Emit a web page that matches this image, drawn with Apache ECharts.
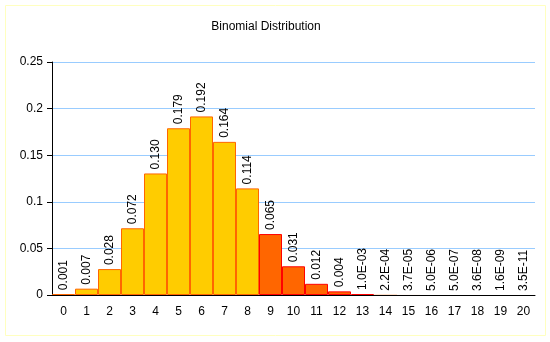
<!DOCTYPE html>
<html><head><meta charset="utf-8">
<script src="https://cdn.jsdelivr.net/npm/echarts@6/dist/echarts.min.js"></script>
<style>html,body{margin:0;padding:0;background:#fff}#c{width:550px;height:342px}</style>
</head><body><div id="c"></div>
<script>
const categories = ['0','1','2','3','4','5','6','7','8','9','10','11','12','13','14','15','16','17','18','19','20'];
const probabilities = [0.0008,0.0068,0.0278,0.0716,0.1304,0.1789,0.1916,0.1643,0.1144,0.0654,0.0308,0.0120,0.0039,0.0010,0.00022,0.000037,0.0000050,0.00000050,0.000000036,0.0000000016,0.000000000035];
const valueLabels = ['0.001','0.007','0.028','0.072','0.130','0.179','0.192','0.164','0.114','0.065','0.031','0.012','0.004','1.0E-03','2.2E-04','3.7E-05','5.0E-06','5.0E-07','3.6E-08','1.6E-09','3.5E-11'];
const yTicks = [0,0.05,0.1,0.15,0.2,0.25];
const highlightFrom = 9;

const chart = echarts.init(document.getElementById('c'));
const font = 'Liberation Sans, Arial, sans-serif';
chart.setOption({
  animation:false,
  title:{text:'Binomial Distribution',left:261,top:16,textAlign:'center',textStyle:{fontFamily:font,fontSize:12,fontWeight:'normal',color:'#000'}},
  graphic:[{type:'rect',shape:{x:5.5,y:5.5,width:540,height:330},style:{fill:'none',stroke:'#FFFFC0',lineWidth:1},silent:true}],
  grid:{left:52,right:15,top:62,bottom:47},
  xAxis:{type:'category',data:categories,boundaryGap:true,z:5,
    axisLine:{lineStyle:{color:'#000'}},
    axisTick:{alignWithLabel:false,length:5,lineStyle:{color:'#000'}},
    axisLabel:{fontFamily:font,fontSize:12,color:'#000',margin:11,interval:0}},
  yAxis:{type:'value',min:0,max:0.25,interval:0.05,
    axisLine:{show:true,lineStyle:{color:'#000'}},
    axisTick:{show:true,length:5,lineStyle:{color:'#000'}},
    splitLine:{lineStyle:{color:'#99CCFF'}},
    axisLabel:{fontFamily:font,fontSize:12,color:'#000',margin:9,formatter:v=>String(yTicks.find(t=>Math.abs(t-v)<1e-9) ?? v)}},
  series:[{type:'bar',barCategoryGap:'0%',z:2,
    data:probabilities.map((v,i)=>({value:v,itemStyle:{color:i>=highlightFrom?'#FF6600':'#FFCC00',borderColor:i>=highlightFrom?'#FF0000':'#FF6600',borderWidth:v<0.0005?0:1}})),
    label:{show:true,position:'top',rotate:90,align:'left',verticalAlign:'middle',distance:4,
      fontFamily:font,fontSize:12,color:'#000',formatter:p=>valueLabels[p.dataIndex]}
  }]
});
</script></body></html>
